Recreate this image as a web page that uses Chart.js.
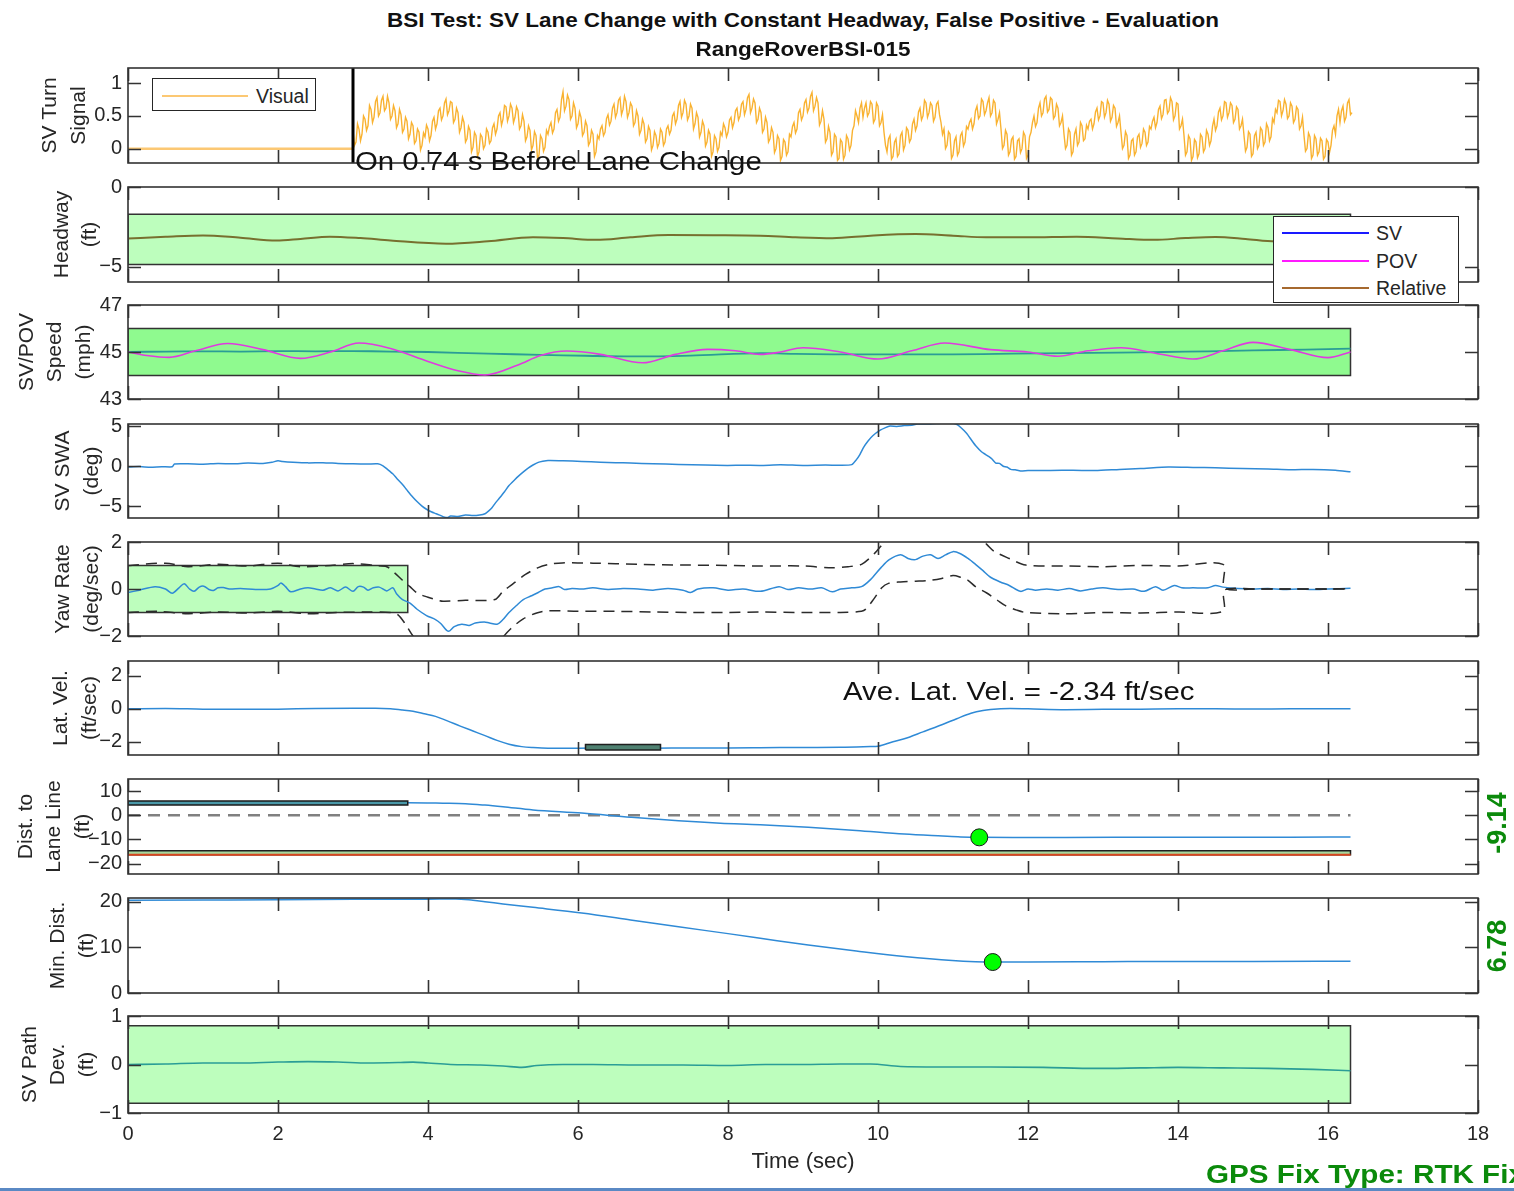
<!DOCTYPE html>
<html>
<head>
<meta charset="utf-8">
<title>BSI Test: SV Lane Change with Constant Headway</title>
<script src="https://cdn.jsdelivr.net/npm/chart.js@4.4.1/dist/chart.umd.min.js"></script>
<style>
  html, body { margin: 0; padding: 0; background: #fff; overflow: hidden; }
  #page { position: relative; width: 1514px; height: 1191px; overflow: hidden; background: #fff;
          font-family: "Liberation Sans", Arial, sans-serif; color: #262626; }
  canvas.panel { position: absolute; left: 0; }
  .txt { position: absolute; white-space: nowrap; line-height: 1; z-index: 20; }
  .title { left: 803px; font-weight: bold; font-size: 21px; color: #111;
           transform: translateX(-50%) scaleX(1.07); }
  .note { font-size: 26px; color: #111; transform-origin: 0 0; transform: scaleX(1.13); }
  .gps { font-size: 26px; font-weight: bold; color: #0b8a0b; transform-origin: 0 0; transform: scaleX(1.14); }
  .side { font-size: 27px; font-weight: bold; color: #0b8a0b; transform: translate(-50%, -50%) rotate(-90deg); }
  .legend { position: absolute; background: #fff; border: 1px solid #262626; z-index: 20; }
  .legend .swatch { position: absolute; height: 2px; }
  .legend .lab { position: absolute; font-size: 19.5px; line-height: 20px; color: #262626; white-space: nowrap; }
  #edge { position: absolute; left: 0; top: 1188px; width: 1514px; height: 3px; background: #5a89c4; z-index: 30; }
</style>
</head>
<body>
<div id="page">
  <div class="txt title" style="top:9px">BSI Test: SV Lane Change with Constant Headway, False Positive - Evaluation</div>
  <div class="txt title" style="top:38px">RangeRoverBSI-015</div>
  <div id="edge"></div>
</div>
<script>
// ---------------------------------------------------------------------------
// Recorded signals (time in seconds)
// ---------------------------------------------------------------------------
const TIME_TICKS = [0, 2, 4, 6, 8, 10, 12, 14, 16, 18];
const T_END = 16.3;

// SV turn signal (visual channel), sampled every 0.02 s from switch-on
const TURN_ON_T = 3.0;
const TURN_DT = 0.02;
const LEAD_TIME = 0.74;
const TURN_OFF = [[0, 0], [3.0, 0]];
const TURN_VISUAL = [
  0.27,0.05,
  0.10,0.38,0.30,0.12,0.22,0.50,0.45,0.28,0.35,0.66,0.60,0.40,0.48,0.72,0.78,0.50,0.55,0.74,0.80,0.58,0.62,0.80,
  0.70,0.45,0.50,0.66,0.58,0.32,0.38,0.60,0.52,0.25,0.30,0.48,0.42,0.15,0.22,0.40,0.35,0.08,0.12,0.30,0.25,-0.02,0.05,0.24,0.18,0.36,
  0.30,0.12,0.20,0.42,0.48,0.30,0.38,0.58,0.62,0.44,0.50,0.70,0.76,0.52,0.58,0.72,0.70,0.40,0.45,0.62,0.55,0.25,
  0.32,0.48,0.40,0.10,0.15,0.34,0.28,-0.05,0.02,0.25,0.20,-0.12,-0.05,0.22,0.18,0.00,0.05,0.30,0.25,0.08,0.12,0.32,
  0.38,0.22,0.30,0.50,0.55,0.36,0.45,0.66,0.64,0.42,0.50,0.68,0.62,0.40,0.48,0.64,0.58,0.30,0.35,0.52,
  0.42,0.12,0.18,0.35,0.28,-0.02,0.05,0.26,0.20,-0.15,-0.10,0.20,0.15,-0.04,0.02,0.28,0.22,0.34,
  0.40,0.24,0.30,0.55,0.60,0.42,0.48,0.75,0.87,0.58,0.65,0.82,0.75,0.45,0.50,0.70,0.62,0.32,
  0.38,0.56,0.48,0.20,0.25,0.42,0.35,0.05,0.10,0.28,0.22,-0.12,-0.05,0.20,0.15,0.30,
  0.35,0.20,0.25,0.46,0.52,0.36,0.42,0.62,0.68,0.48,0.55,0.74,0.78,0.52,0.60,0.80,0.72,0.48,0.55,0.70,0.65,0.35,
  0.40,0.58,0.50,0.22,0.28,0.45,0.38,0.10,0.15,0.34,0.28,-0.02,0.05,0.26,0.20,0.02,0.08,0.30,0.25,0.05,0.10,0.30,
  0.35,0.22,0.28,0.50,0.55,0.38,0.45,0.66,0.72,0.48,0.55,0.74,0.68,0.44,0.50,0.68,0.62,0.30,0.38,0.55,
  0.48,0.18,0.25,0.42,0.35,0.04,0.10,0.28,0.22,-0.12,-0.05,0.20,0.15,-0.04,0.02,0.25,0.20,0.38,
  0.32,0.18,0.25,0.44,0.48,0.32,0.40,0.58,0.62,0.44,0.50,0.68,0.72,0.52,0.60,0.78,0.83,0.55,0.62,0.76,0.70,0.40,
  0.45,0.62,0.55,0.25,0.30,0.48,0.40,0.10,0.15,0.32,0.25,-0.06,0.00,0.20,0.15,-0.18,-0.12,0.14,0.10,-0.10,-0.05,0.22,0.18,0.34,
  0.40,0.24,0.30,0.55,0.60,0.44,0.50,0.70,0.75,0.56,0.62,0.80,0.86,0.58,0.65,0.78,0.70,0.36,0.42,0.58,
  0.45,0.10,0.15,0.34,0.25,-0.10,-0.05,0.22,0.18,-0.18,-0.15,0.14,0.10,-0.16,-0.10,0.20,0.15,-0.02,0.05,0.28,
  0.35,0.58,0.50,0.40,0.62,0.70,0.48,0.62,0.70,0.50,0.55,0.72,0.68,0.40,0.45,0.70,0.65,0.35,0.40,0.52,
  0.25,0.05,-0.05,0.15,0.20,-0.16,-0.12,0.10,0.15,-0.12,-0.08,0.20,0.25,-0.02,0.05,0.32,0.28,0.10,0.15,0.38,
  0.45,0.28,0.35,0.56,0.62,0.44,0.50,0.74,0.70,0.48,0.55,0.70,0.66,0.42,0.48,0.68,0.72,0.52,0.40,0.22,
  0.30,0.00,0.05,0.26,0.22,-0.15,-0.10,0.12,0.18,-0.10,-0.05,0.20,0.25,0.04,0.10,0.34,0.30,0.40,
  0.45,0.30,0.38,0.58,0.65,0.46,0.50,0.76,0.72,0.52,0.58,0.70,0.78,0.50,0.55,0.74,0.70,0.38,0.45,0.55,
  0.30,0.00,0.05,0.28,0.22,-0.10,-0.05,0.14,0.18,-0.16,-0.12,0.12,0.15,-0.06,0.00,0.25,0.20,-0.15,-0.10,0.18,0.25,0.40,
  0.50,0.34,0.40,0.62,0.70,0.50,0.55,0.76,0.80,0.56,0.60,0.78,0.75,0.46,0.50,0.68,0.62,0.35,0.40,0.50,
  0.22,0.00,0.05,0.30,0.25,-0.10,-0.05,0.22,0.30,0.05,0.10,0.40,0.35,0.12,0.15,0.36,0.30,0.42,
  0.45,0.30,0.38,0.56,0.62,0.44,0.50,0.72,0.70,0.48,0.55,0.74,0.68,0.42,0.48,0.66,0.62,0.34,0.40,0.50,
  0.25,0.00,0.05,0.26,0.20,-0.15,-0.10,0.12,0.15,-0.10,-0.05,0.18,0.22,0.02,0.08,0.30,0.25,0.05,0.10,0.34,0.30,0.42,
  0.48,0.32,0.40,0.60,0.65,0.46,0.52,0.74,0.75,0.54,0.58,0.78,0.72,0.44,0.50,0.70,0.68,0.30,0.35,0.45,
  0.20,-0.10,-0.05,0.20,0.15,-0.18,-0.12,0.14,0.10,-0.14,-0.08,0.22,0.18,-0.05,0.00,0.28,0.22,0.05,0.12,0.34,
  0.45,0.28,0.35,0.56,0.62,0.44,0.50,0.72,0.70,0.48,0.55,0.70,0.66,0.40,0.45,0.64,0.60,0.30,0.35,0.45,
  0.20,-0.04,0.02,0.26,0.22,-0.12,-0.08,0.20,0.25,0.00,0.05,0.32,0.28,0.05,0.10,0.38,0.32,0.12,0.18,0.46,0.40,0.60,
  0.55,0.74,0.72,0.50,0.58,0.75,0.68,0.46,0.50,0.70,0.65,0.40,0.45,0.64,0.60,0.30,0.35,0.48,
  0.20,-0.04,0.00,0.24,0.18,-0.15,-0.10,0.20,0.15,-0.10,-0.05,0.16,0.12,-0.16,-0.12,0.14,0.10,-0.06,0.05,0.28,
  0.35,0.22,0.50,0.60,0.40,0.58,0.65,0.42,0.48,0.70,0.75,0.52,0.55
];

// Headway (ft): relative headway and its tolerance band
const HEADWAY_REL = [
  [0,-3.23],[0.5,-3.12],[1.0,-3.03],[1.5,-3.18],[1.98,-3.35],[2.3,-3.25],[2.69,-3.11],[3.1,-3.2],
  [3.5,-3.35],[4.24,-3.55],[4.8,-3.4],[5.4,-3.15],[5.8,-3.2],[6.24,-3.31],[6.7,-3.15],[7.21,-3.01],
  [7.8,-3.02],[8.43,-3.05],[8.9,-3.15],[9.39,-3.21],[9.9,-3.05],[10.5,-2.95],[11.0,-3.05],[11.44,-3.15],
  [12.0,-3.15],[12.65,-3.11],[13.2,-3.22],[13.68,-3.31],[14.1,-3.2],[14.5,-3.13],[14.9,-3.25],[15.3,-3.41],
  [15.8,-3.35],[16.3,-3.3]
];
const HEADWAY_BAND = [-4.85, -1.7];

// Speeds (mph)
const SPEED_SV = [
  [0,45.0],[0.5,45.02],[1.0,45.03],[1.5,45.02],[2.0,45.04],[2.5,45.03],[3.0,45.04],[3.5,45.02],[4.0,45.0],
  [4.8,44.93],[5.5,44.88],[6.1,44.84],[6.7,44.81],[7.5,44.85],[8.43,44.95],[8.9,44.92],[9.4,44.9],
  [10.2,44.9],[11.0,44.9],[11.8,44.93],[12.5,44.95],[13.2,44.97],[13.8,45.0],[14.4,45.03],[15.0,45.07],
  [15.7,45.1],[16.3,45.14]
];
const SPEED_POV = [
  [0,45.0],[0.25,44.85],[0.55,44.77],[0.9,45.05],[1.33,45.36],[1.8,45.1],[2.3,44.73],[2.7,45.0],
  [3.08,45.38],[3.5,45.15],[4.0,44.6],[4.4,44.2],[4.76,44.02],[5.2,44.45],[5.5,44.85],[5.85,45.04],
  [6.3,44.9],[6.86,44.54],[7.3,44.9],[7.73,45.11],[8.1,45.05],[8.43,44.9],[8.7,45.0],[9.0,45.18],
  [9.5,45.0],[10.0,44.7],[10.45,45.05],[10.89,45.38],[11.5,45.1],[12.0,45.0],[12.4,44.82],[12.8,45.05],
  [13.24,45.18],[13.7,44.95],[14.2,44.7],[14.6,45.05],[15.0,45.41],[15.5,45.1],[16.0,44.76],[16.3,45.0]
];
const SPEED_BAND = [44, 46];

// Steering wheel angle (deg)
const SWA_DEG = [
  [0,-0.1],[0.15,-0.05],[0.3,-0.12],[0.45,-0.06],[0.59,-0.08],[0.62,0.28],[0.8,0.3],[1.0,0.25],[1.2,0.35],
  [1.4,0.3],[1.6,0.4],[1.8,0.35],[1.92,0.5],[2.0,0.69],[2.06,0.6],[2.2,0.5],[2.4,0.42],[2.6,0.45],[2.8,0.35],
  [3.0,0.3],[3.2,0.28],[3.33,0.3],[3.4,0.05],[3.46,-0.4],[3.53,-0.95],[3.59,-1.6],[3.66,-2.3],[3.72,-3.0],
  [3.79,-3.8],[3.85,-4.4],[3.92,-5.0],[3.98,-5.4],[4.05,-5.75],[4.11,-5.96],[4.17,-6.2],[4.21,-6.36],
  [4.26,-6.45],[4.3,-6.25],[4.4,-6.3],[4.5,-6.13],[4.6,-6.2],[4.69,-6.13],[4.76,-5.96],[4.81,-5.6],
  [4.85,-5.24],[4.9,-4.6],[4.95,-4.03],[5.02,-3.2],[5.08,-2.42],[5.15,-1.75],[5.21,-1.21],[5.28,-0.65],
  [5.34,-0.2],[5.4,0.15],[5.47,0.48],[5.53,0.62],[5.6,0.73],[5.8,0.7],[6.05,0.6],[6.3,0.5],[6.5,0.45],
  [6.7,0.4],[7.0,0.3],[7.34,0.23],[7.7,0.15],[7.99,0.1],[8.2,0.12],[8.43,0.1],[8.7,0.18],[9.0,0.1],
  [9.3,0.15],[9.5,0.12],[9.65,0.2],[9.71,0.8],[9.76,1.5],[9.81,2.4],[9.87,3.2],[9.93,3.83],[10.03,4.52],
  [10.1,4.85],[10.16,5.04],[10.25,5.0],[10.35,5.1],[10.45,5.15],[10.54,5.32],[10.7,5.3],[10.85,5.4],
  [11.0,5.4],[11.06,5.2],[11.1,4.9],[11.15,4.44],[11.2,3.9],[11.25,3.23],[11.3,2.6],[11.38,1.81],
  [11.43,1.5],[11.48,1.2],[11.52,0.9],[11.57,0.4],[11.62,0.35],[11.67,0.0],[11.72,-0.1],[11.77,-0.4],
  [11.83,-0.45],[11.9,-0.6],[12.0,-0.55],[12.3,-0.53],[12.6,-0.5],[12.9,-0.55],[13.22,-0.4],[13.5,-0.3],
  [13.87,-0.1],[14.2,-0.15],[14.5,-0.2],[14.86,-0.3],[15.2,-0.35],[15.5,-0.45],[15.8,-0.4],[16.1,-0.5],
  [16.3,-0.7]
];

// Yaw rate (deg/sec) with its dashed tolerance envelope
const YAW_RATE = [
  [0,-0.15],[0.15,-0.05],[0.36,0.1],[0.5,0.0],[0.59,-0.18],[0.68,0.05],[0.75,0.22],[0.82,0.0],[0.88,-0.1],
  [0.95,0.08],[1.01,0.12],[1.08,-0.02],[1.14,-0.06],[1.2,0.05],[1.27,0.06],[1.35,0.0],[1.5,0.02],[1.7,-0.02],
  [1.9,0.0],[2.0,0.15],[2.04,0.26],[2.1,0.1],[2.17,-0.12],[2.3,0.0],[2.4,0.05],[2.5,0.0],[2.6,-0.05],
  [2.7,0.05],[2.8,-0.08],[2.9,0.08],[3.0,-0.1],[3.07,0.1],[3.14,0.08],[3.2,-0.05],[3.27,0.05],[3.35,0.08],
  [3.45,-0.08],[3.53,0.05],[3.58,-0.2],[3.66,-0.45],[3.76,-0.6],[3.85,-0.85],[3.98,-1.13],[4.1,-1.3],
  [4.17,-1.47],[4.27,-1.8],[4.35,-1.6],[4.45,-1.5],[4.55,-1.55],[4.63,-1.45],[4.75,-1.4],[4.82,-1.45],
  [4.92,-1.5],[5.0,-1.3],[5.08,-1.0],[5.18,-0.7],[5.27,-0.45],[5.37,-0.3],[5.47,-0.15],[5.56,0.0],
  [5.66,0.05],[5.75,0.1],[5.82,-0.02],[5.92,0.02],[6.05,0.0],[6.2,0.05],[6.4,-0.02],[6.6,0.02],[6.8,0.0],
  [7.0,-0.05],[7.2,0.02],[7.4,-0.05],[7.5,-0.15],[7.6,0.0],[7.8,0.05],[8.0,-0.05],[8.2,0.0],[8.43,-0.1],
  [8.68,0.1],[8.8,-0.02],[8.94,0.05],[9.1,0.0],[9.25,0.05],[9.39,-0.12],[9.5,0.0],[9.65,0.05],[9.78,0.1],
  [9.9,0.4],[10.04,0.91],[10.15,1.25],[10.3,1.46],[10.4,1.3],[10.5,1.25],[10.6,1.4],[10.7,1.46],[10.8,1.3],
  [10.9,1.45],[11.0,1.59],[11.1,1.5],[11.2,1.3],[11.3,1.05],[11.4,0.78],[11.5,0.5],[11.63,0.3],[11.75,0.15],
  [11.9,-0.1],[12.0,0.0],[12.1,-0.05],[12.25,0.0],[12.4,-0.05],[12.55,0.02],[12.7,-0.08],[12.85,0.0],
  [13.0,0.05],[13.2,-0.02],[13.4,0.0],[13.55,-0.1],[13.7,0.1],[13.8,-0.05],[13.95,0.15],[14.05,0.05],
  [14.2,0.05],[14.4,0.05],[14.5,0.15],[14.6,0.08],[14.8,0.02],[15.0,0.0],[15.2,0.02],[15.4,-0.02],
  [15.6,0.0],[15.8,-0.02],[16.0,0.0],[16.3,0.03]
];
const YAW_UPPER = [
  [0,1.0],[0.5,1.1],[0.8,0.95],[1.2,1.05],[1.6,0.98],[2.0,1.1],[2.3,0.95],[2.7,1.0],[3.0,1.08],[3.3,1.0],
  [3.45,0.95],[3.55,0.7],[3.66,0.37],[3.76,0.1],[3.86,-0.18],[4.0,-0.35],[4.1,-0.45],[4.2,-0.52],[4.5,-0.48],
  [4.89,-0.45],[5.0,-0.1],[5.14,0.24],[5.3,0.62],[5.47,0.91],[5.62,1.05],[5.79,1.11],[6.2,1.1],[6.8,1.05],
  [7.4,1.02],[8.0,1.0],[8.43,0.98],[9.0,0.98],[9.39,0.9],[9.6,0.95],[9.78,1.05],[9.95,1.5],[10.07,1.95],
  [10.2,2.4],[10.3,2.46],[10.7,2.46],[11.0,2.59],[11.2,2.35],[11.35,2.2],[11.45,1.9],[11.55,1.6],[11.75,1.3],
  [11.97,1.02],[12.5,0.98],[13.0,0.95],[13.5,1.0],[14.0,0.98],[14.6,1.05],[14.62,0.05],[15.0,0.0],[15.5,0.0],
  [16.0,0.0],[16.3,0.02]
];
const YAW_LOWER = [
  [0,-1.0],[0.4,-0.95],[0.8,-1.05],[1.2,-0.98],[1.6,-1.02],[2.0,-0.95],[2.4,-1.05],[2.8,-1.0],[3.2,-0.98],
  [3.5,-1.0],[3.6,-1.1],[3.7,-1.5],[3.8,-2.0],[3.9,-2.3],[4.2,-2.5],[4.6,-2.5],[4.9,-2.45],[4.95,-2.3],
  [5.0,-2.05],[5.1,-1.7],[5.27,-1.27],[5.45,-1.02],[5.6,-0.93],[6.0,-0.95],[6.5,-0.95],[7.0,-0.98],
  [7.5,-1.0],[8.0,-1.0],[8.43,-0.98],[9.0,-1.0],[9.5,-1.0],[9.78,-0.95],[9.84,-0.85],[9.95,-0.4],
  [10.05,0.05],[10.14,0.24],[10.3,0.3],[10.5,0.33],[10.7,0.37],[10.85,0.45],[11.0,0.57],[11.1,0.5],
  [11.2,0.37],[11.3,0.1],[11.45,-0.17],[11.6,-0.5],[11.7,-0.71],[11.85,-0.9],[11.97,-1.0],[12.5,-1.05],
  [13.0,-1.0],[13.5,-1.02],[14.0,-0.98],[14.6,-0.95],[14.62,-0.05],[15.0,0.0],[15.5,0.0],[16.0,0.0],
  [16.3,0.0]
];
const YAW_BOX_T = [0, 3.73];
const YAW_BOX_V = [-1, 1];

// Lateral velocity (ft/sec)
const LAT_VEL = [
  [0,0.0],[0.5,0.02],[1.0,-0.02],[1.5,-0.03],[2.0,-0.02],[2.5,0.02],[3.0,0.03],[3.3,0.03],[3.5,0.0],
  [3.66,-0.07],[3.8,-0.15],[3.95,-0.3],[4.1,-0.46],[4.25,-0.72],[4.43,-1.05],[4.6,-1.35],[4.76,-1.63],
  [4.92,-1.92],[5.08,-2.15],[5.25,-2.3],[5.4,-2.36],[5.6,-2.4],[6.0,-2.4],[6.5,-2.38],[7.0,-2.4],
  [7.5,-2.38],[8.0,-2.38],[8.43,-2.37],[9.0,-2.35],[9.5,-2.34],[9.9,-2.3],[10.0,-2.28],[10.2,-2.0],
  [10.35,-1.82],[10.6,-1.4],[10.86,-0.95],[11.05,-0.6],[11.24,-0.27],[11.4,-0.1],[11.5,-0.04],[11.76,0.02],
  [12.0,0.0],[12.5,-0.05],[13.0,-0.03],[13.5,-0.02],[14.0,0.0],[14.5,0.0],[15.0,-0.01],[15.5,0.0],[16.3,0.0]
];
const LAT_VEL_AVE = -2.34;
const LAT_VEL_AVE_T = [6.1, 7.1];

// Distance to lane line (ft)
const DIST_LANE = [
  [0,5.3],[1.0,5.3],[2.0,5.25],[3.0,5.2],[3.73,5.2],[4.2,5.0],[4.5,4.8],[4.76,4.2],[5.0,3.5],[5.4,2.2],
  [6.05,0.9],[6.7,-0.8],[7.34,-2.3],[7.9,-3.3],[8.43,-3.9],[9.07,-5.0],[9.71,-6.3],[10.35,-7.8],
  [10.86,-8.6],[11.1,-8.95],[11.35,-9.14],[11.8,-9.2],[12.5,-9.15],[13.5,-9.1],[14.5,-9.05],[15.5,-9.05],
  [16.3,-9.0]
];
const DIST_LANE_MIN = -9.14;
const DIST_LANE_MIN_T = 11.35;
const DIST_LANE_BAR_T = [0, 3.73];
const DIST_LANE_BAR_V = [4.2, 5.9];
const DIST_LANE_EDGE_V = [-16.3, -14.7];

// Minimum distance to POV (ft)
const MIN_DIST = [
  [0,20.3],[1.0,20.35],[2.0,20.4],[3.0,20.5],[4.0,20.55],[4.37,20.6],[4.6,20.3],[4.76,20.0],[5.0,19.5],
  [5.4,18.75],[6.05,17.5],[6.7,16.0],[7.34,14.5],[8.0,13.0],[8.43,12.0],[9.07,10.5],[9.71,9.2],
  [10.35,8.0],[10.99,7.1],[11.3,6.85],[11.53,6.78],[12.0,6.8],[13.0,6.85],[14.0,6.9],[15.0,6.9],[16.3,6.95]
];
const MIN_DIST_MIN = 6.78;
const MIN_DIST_MIN_T = 11.53;

// SV path deviation (ft)
const PATH_DEV = [
  [0,0.0],[0.5,0.01],[1.0,0.03],[1.5,0.03],[2.0,0.05],[2.4,0.06],[2.8,0.05],[3.2,0.03],[3.6,0.04],
  [3.8,0.05],[4.0,0.03],[4.3,0.0],[4.7,-0.01],[5.0,-0.03],[5.25,-0.06],[5.45,-0.02],[5.8,0.0],[6.2,0.0],
  [6.8,-0.01],[7.4,-0.01],[8.0,-0.02],[8.5,0.0],[9.0,0.0],[9.5,0.01],[9.9,0.01],[10.3,-0.04],[10.8,-0.05],
  [11.5,-0.05],[12.2,-0.06],[12.9,-0.08],[13.5,-0.07],[14.0,-0.06],[14.6,-0.07],[15.2,-0.08],[15.8,-0.1],
  [16.3,-0.13]
];
const PATH_DEV_BAND = [-0.8, 0.8];

// ---------------------------------------------------------------------------
// Styling
// ---------------------------------------------------------------------------
const INK = '#262626';
const BLUE = '#2f8ad6';
const TEAL = '#2a9d96';
const MAGENTA = '#e03ae0';
const OLIVE = '#77702f';
const ORANGE = '#f9b230';
const PALE_GREEN = '#bdfebd';
const SPEED_GREEN = '#8ffa8f';
const EDGE = '#333333';
const TICK_LEN = 13;

Chart.defaults.font.family = '"Liberation Sans", Arial, sans-serif';
Chart.defaults.color = INK;

const page = document.getElementById('page');

const xy = pairs => pairs.map(p => ({ x: p[0], y: p[1] }));

function line(pairs, color, width, extra) {
  return Object.assign({
    data: xy(pairs), borderColor: color, borderWidth: width, pointRadius: 0,
    fill: false, tension: 0, order: 1
  }, extra || {});
}

// A shaded rectangle with a dark outline, spanning [t0, t1] x [lo, hi]
function band(t0, t1, lo, hi, fillColor, edgeColor, order) {
  return [
    { data: [{ x: t0, y: hi }, { x: t1, y: hi }], fill: { value: lo }, backgroundColor: fillColor,
      borderWidth: 0, pointRadius: 0, order: order + 1 },
    { data: [{ x: t0, y: lo }, { x: t0, y: hi }, { x: t1, y: hi }, { x: t1, y: lo }, { x: t0, y: lo }],
      borderColor: edgeColor, borderWidth: 1.5, pointRadius: 0, fill: false, order: order }
  ];
}

function marker(t, v) {
  return { data: [{ x: t, y: v }], showLine: false, pointRadius: 8.5, pointBackgroundColor: '#00ff00',
           pointBorderColor: '#1a1a1a', pointBorderWidth: 1, order: 0 };
}

const fmtTick = v => (v < 0 ? '\u2212' + (-v) : String(v));

// Box outline and inward tick marks on all four sides
const frame = {
  id: 'frame',
  afterDatasetsDraw(chart, args, opts) {
    const { ctx, chartArea: a, scales: { x, y } } = chart;
    ctx.save();
    ctx.strokeStyle = '#333333';
    ctx.lineWidth = 1.6;
    ctx.beginPath();
    TIME_TICKS.forEach(t => {
      const px = Math.round(x.getPixelForValue(t)) + 0.5;
      ctx.moveTo(px, a.bottom); ctx.lineTo(px, a.bottom - TICK_LEN);
      ctx.moveTo(px, a.top); ctx.lineTo(px, a.top + TICK_LEN);
    });
    (opts.yTicks || []).forEach(v => {
      const py = Math.round(y.getPixelForValue(v)) + 0.5;
      ctx.moveTo(a.left, py); ctx.lineTo(a.left + TICK_LEN, py);
      ctx.moveTo(a.right, py); ctx.lineTo(a.right - TICK_LEN, py);
    });
    ctx.stroke();
    ctx.strokeRect(a.left, a.top, a.right - a.left, a.bottom - a.top);
    ctx.restore();
  }
};

function makePanel(p) {
  const padT = 16;
  const padB = p.xAxis ? 4 : 16;
  const xH = p.xAxis ? 62 : 0;
  const cv = document.createElement('canvas');
  cv.className = 'panel';
  cv.width = 1514;
  cv.height = (p.bottom - p.top) + padT + padB + xH;
  cv.style.top = (p.top - padT) + 'px';
  page.appendChild(cv);
  new Chart(cv, {
    type: 'line',
    data: { datasets: p.datasets },
    options: {
      responsive: false, animation: false, devicePixelRatio: 1, events: [],
      layout: { padding: { left: 0, right: 36, top: padT, bottom: padB } },
      plugins: { legend: { display: false }, tooltip: { enabled: false }, frame: { yTicks: p.yTicks } },
      scales: {
        x: {
          type: 'linear', min: 0, max: 18, display: !!p.xAxis,
          afterFit: s => { s.height = xH; },
          grid: { display: false, drawTicks: false }, border: { display: false },
          ticks: { stepSize: 2, padding: 9, font: { size: 20 }, color: INK, maxRotation: 0, autoSkip: false },
          title: { display: true, text: 'Time (sec)', font: { size: 22 }, color: INK, padding: { top: 0, bottom: 0 } }
        },
        y: {
          type: 'linear', min: p.yMin, max: p.yMax,
          afterBuildTicks: s => { s.ticks = p.yTicks.map(v => ({ value: v })); },
          afterFit: s => { s.width = 128; },
          grid: { display: false, drawTicks: false }, border: { display: false },
          ticks: { padding: 6, font: { size: 20 }, color: INK, callback: fmtTick, autoSkip: false },
          title: { display: true, text: p.title, font: { size: 21, lineHeight: 28.5 / 21 }, color: INK,
                   padding: { top: p.titleFirst - 14.25, bottom: 0 } }
        }
      }
    },
    plugins: [frame]
  });
}

// ---------------------------------------------------------------------------
// Panels
// ---------------------------------------------------------------------------
const turnPts = TURN_VISUAL.map((v, i) => [TURN_ON_T + i * TURN_DT, v]);

makePanel({
  top: 66, bottom: 165, yMin: -0.22, yMax: 1.234, yTicks: [0, 0.5, 1],
  title: ['SV Turn', 'Signal'], titleFirst: 50.5,
  datasets: [
    line(TURN_OFF, '#fcc873', 2.5, { order: 3 }),
    line(turnPts, ORANGE, 1.4, { order: 2 }),
    line([[TURN_ON_T, -0.22], [TURN_ON_T, 1.234]], '#000000', 3, { order: 1 })
  ]
});

makePanel({
  top: 185, bottom: 284, yMin: -5.95, yMax: 0, yTicks: [-5, 0],
  title: ['Headway', '(ft)'], titleFirst: 62,
  datasets: [
    ...band(0, T_END, HEADWAY_BAND[0], HEADWAY_BAND[1], PALE_GREEN, EDGE, 5),
    line(HEADWAY_REL, OLIVE, 2, { cubicInterpolationMode: 'monotone' })
  ]
});

makePanel({
  top: 303, bottom: 401, yMin: 43, yMax: 47, yTicks: [43, 45, 47],
  title: ['SV/POV', 'Speed', '(mph)'], titleFirst: 27,
  datasets: [
    ...band(0, T_END, SPEED_BAND[0], SPEED_BAND[1], SPEED_GREEN, EDGE, 5),
    line(SPEED_SV, TEAL, 1.8, { order: 2, tension: 0.3 }),
    line(SPEED_POV, MAGENTA, 1.6, { order: 1, cubicInterpolationMode: 'monotone' })
  ]
});

makePanel({
  top: 422, bottom: 520, yMin: -6.5, yMax: 5.3, yTicks: [-5, 0, 5],
  title: ['SV SWA', '(deg)'], titleFirst: 63.5,
  datasets: [ line(SWA_DEG, BLUE, 1.5, { tension: 0.2 }) ]
});

makePanel({
  top: 540, bottom: 638, yMin: -2, yMax: 2, yTicks: [-2, 0, 2],
  title: ['Yaw Rate', '(deg/sec)'], titleFirst: 63.5,
  datasets: [
    ...band(YAW_BOX_T[0], YAW_BOX_T[1], YAW_BOX_V[0], YAW_BOX_V[1], PALE_GREEN, EDGE, 5),
    line(YAW_RATE, BLUE, 1.5, { order: 3, tension: 0.3 }),
    line(YAW_UPPER, '#2b2b2b', 1.5, { order: 2, borderDash: [11, 7], tension: 0.3 }),
    line(YAW_LOWER, '#2b2b2b', 1.5, { order: 2, borderDash: [11, 7], tension: 0.3 })
  ]
});

makePanel({
  top: 659, bottom: 757, yMin: -2.81, yMax: 2.91, yTicks: [-2, 0, 2],
  title: ['Lat. Vel.', '(ft/sec)'], titleFirst: 61.5,
  datasets: [
    line(LAT_VEL, BLUE, 1.5, { order: 3, cubicInterpolationMode: 'monotone' }),
    ...band(LAT_VEL_AVE_T[0], LAT_VEL_AVE_T[1], LAT_VEL_AVE - 0.17, LAT_VEL_AVE + 0.17, '#4f8171', '#1f1f1f', 0)
  ]
});

makePanel({
  top: 777, bottom: 876, yMin: -24.3, yMax: 15, yTicks: [-20, -10, 0, 10],
  title: ['Dist. to', 'Lane Line', '(ft)'], titleFirst: 26,
  datasets: [
    ...band(0, T_END, DIST_LANE_EDGE_V[0], DIST_LANE_EDGE_V[1], '#a6d69c', '#1f1f1f', 6),
    line([[0, DIST_LANE_EDGE_V[0]], [T_END, DIST_LANE_EDGE_V[0]]], '#d8461e', 2, { order: 5 }),
    line([[0, 0], [T_END, 0]], '#808080', 2.5, { order: 4, borderDash: [12, 8] }),
    line(DIST_LANE, BLUE, 1.5, { order: 3, cubicInterpolationMode: 'monotone' }),
    ...band(DIST_LANE_BAR_T[0], DIST_LANE_BAR_T[1], DIST_LANE_BAR_V[0], DIST_LANE_BAR_V[1], '#4a98a8', '#1a1a1a', 1),
    marker(DIST_LANE_MIN_T, DIST_LANE_MIN)
  ]
});

makePanel({
  top: 896, bottom: 995, yMin: 0, yMax: 20.8, yTicks: [0, 10, 20],
  title: ['Min. Dist.', '(ft)'], titleFirst: 58.5,
  datasets: [
    line(MIN_DIST, BLUE, 1.5, { order: 2, cubicInterpolationMode: 'monotone' }),
    marker(MIN_DIST_MIN_T, MIN_DIST_MIN)
  ]
});

makePanel({
  top: 1014, bottom: 1113, yMin: -1, yMax: 1, yTicks: [-1, 0, 1], xAxis: true,
  title: ['SV Path', 'Dev.', '(ft)'], titleFirst: 30,
  datasets: [
    ...band(0, T_END, PATH_DEV_BAND[0], PATH_DEV_BAND[1], PALE_GREEN, EDGE, 5),
    line(PATH_DEV, TEAL, 1.6, { order: 1, cubicInterpolationMode: 'monotone' })
  ]
});

// ---------------------------------------------------------------------------
// Annotations and legends
// ---------------------------------------------------------------------------
function addText(cls, text, left, top) {
  const d = document.createElement('div');
  d.className = 'txt ' + cls;
  d.textContent = text;
  d.style.left = left + 'px';
  d.style.top = top + 'px';
  page.appendChild(d);
  return d;
}

addText('note', 'On ' + LEAD_TIME.toFixed(2) + ' s Before Lane Change', 355, 148);
addText('note', 'Ave. Lat. Vel. = ' + LAT_VEL_AVE.toFixed(2) + ' ft/sec', 843, 678);
addText('gps', 'GPS Fix Type: RTK Fix', 1206, 1161);
addText('side', DIST_LANE_MIN.toFixed(2), 1497, 823);
addText('side', MIN_DIST_MIN.toFixed(2), 1497, 946);

function addLegend(left, top, width, height, entries) {
  const box = document.createElement('div');
  box.className = 'legend';
  Object.assign(box.style, { left: left + 'px', top: top + 'px', width: width + 'px', height: height + 'px' });
  entries.forEach(e => {
    const sw = document.createElement('div');
    sw.className = 'swatch';
    Object.assign(sw.style, { left: e.x0 + 'px', width: (e.x1 - e.x0) + 'px', top: (e.y - 1) + 'px', background: e.color });
    box.appendChild(sw);
    const lab = document.createElement('div');
    lab.className = 'lab';
    lab.textContent = e.label;
    Object.assign(lab.style, { left: e.tx + 'px', top: (e.y - 10) + 'px' });
    box.appendChild(lab);
  });
  page.appendChild(box);
}

addLegend(152, 78, 162, 31, [
  { label: 'Visual', color: '#fcc873', x0: 9, x1: 95, tx: 103, y: 17 }
]);
addLegend(1273, 216, 184, 85, [
  { label: 'SV', color: '#1a1aff', x0: 8, x1: 95, tx: 102, y: 16 },
  { label: 'POV', color: '#ff1aff', x0: 8, x1: 95, tx: 102, y: 44 },
  { label: 'Relative', color: '#a6692f', x0: 8, x1: 95, tx: 102, y: 71 }
]);
</script>
</body>
</html>
